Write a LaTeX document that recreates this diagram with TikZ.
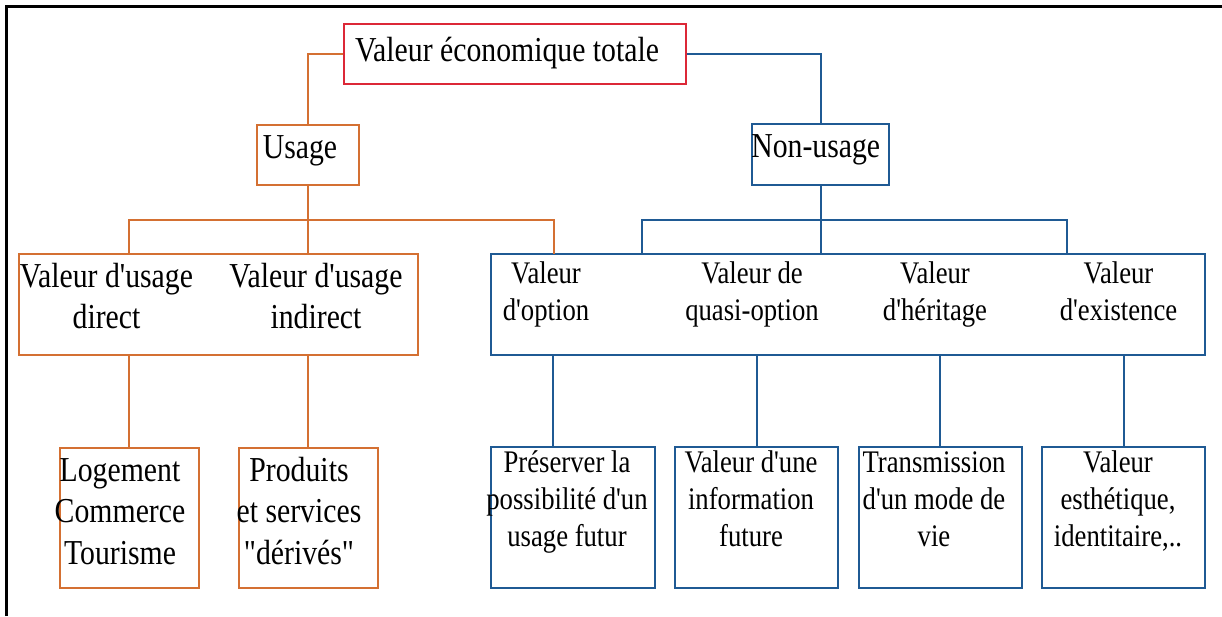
\documentclass[tikz,border=0pt]{standalone}
\usepackage{fontspec}
\setmainfont{Liberation Serif}[FakeStretch=0.85,Ligatures=TeXOff]
\usetikzlibrary{calc}
\definecolor{tvred}{RGB}{220,40,55}
\definecolor{tvorange}{RGB}{212,112,50}
\definecolor{tvblue}{RGB}{31,90,148}
\newcommand\fbig{\fontsize{35}{41.5}\selectfont}
\newcommand\fsmall{\fontsize{31.4}{36.7}\selectfont}
\tikzset{
  boxbase/.style={draw, line width=2pt, inner sep=0pt, rectangle},
  redbox/.style={boxbase, draw=tvred},
  orabox/.style={boxbase, draw=tvorange},
  blubox/.style={boxbase, draw=tvblue},
  oraline/.style={draw=tvorange, line width=2pt},
  bluline/.style={draw=tvblue, line width=2pt},
  % anchored on the baseline of the last line
  tbig/.style={inner sep=0pt, anchor=base, align=center, font=\fbig},
  tsmall/.style={inner sep=0pt, anchor=base, align=center, font=\fsmall},
}
\begin{document}
\begin{tikzpicture}[x=1pt,y=-1pt]
\useasboundingbox (0,0) rectangle (1222,616);
\fill[white] (0,0) rectangle (1222,616);
% outer frame (left and top edges)
\draw[black, line width=2.5pt] (6.7,616) -- (6.7,6.7) -- (1222,6.7);

% boxes
\node[redbox, minimum width=342.4pt, minimum height=60pt] (tot) at (514.8,54) {};
\node[orabox, minimum width=102pt, minimum height=60pt] (use) at (308.4,155) {};
\node[blubox, minimum width=137.4pt, minimum height=60.7pt] (non) at (820.7,154.7) {};
\node[orabox, minimum width=399pt, minimum height=101pt] (ubig) at (218.9,304.5) {};
\node[blubox, minimum width=713.2pt, minimum height=101pt] (nbig) at (848,304.5) {};
\node[orabox, minimum width=138.4pt, minimum height=139.5pt] (u1) at (129.3,517.8) {};
\node[orabox, minimum width=138.4pt, minimum height=139.5pt] (u2) at (308.4,517.8) {};
\node[blubox, minimum width=163.2pt, minimum height=140.4pt] (n1) at (573,517.5) {};
\node[blubox, minimum width=163.3pt, minimum height=140.4pt] (n2) at (756.7,517.5) {};
\node[blubox, minimum width=163.3pt, minimum height=140.4pt] (n3) at (940.25,517.5) {};
\node[blubox, minimum width=162.8pt, minimum height=140.4pt] (n4) at (1123.6,517.5) {};

% bus points
\coordinate (ubus) at (308.4,219.7);
\coordinate (nbus) at (820.7,219.7);
\coordinate (uopt) at (554,254);
\coordinate (nleft) at (641.9,254);
\coordinate (nright) at (1066.8,254);
\coordinate (optdown) at (553.4,355);

% connectors
\draw[oraline] (tot.west |- 0,54) -| (use.north);
\draw[bluline] (tot.east |- 0,54) -| (non.north);
\draw[oraline] (use.south) -- (ubus);
\draw[oraline] (u1 |- ubig.north) |- (ubus) -| (uopt);
\draw[oraline] (ubus) -- (use |- ubig.north);
\draw[bluline] (non.south) -- (nbus);
\draw[bluline] (nleft) |- (nbus) -| (nright);
\draw[bluline] (nbus) -- (non |- nbig.north);
\draw[oraline] (u1 |- ubig.south) -- (u1.north);
\draw[oraline] (u2 |- ubig.south) -- (u2.north);
\draw[bluline] (optdown) -- (optdown |- n1.north);
\draw[bluline] (n2 |- nbig.south) -- (n2.north);
\draw[bluline] (n3 |- nbig.south) -- (n3.north);
\draw[bluline] (n4 |- nbig.south) -- (n4.north);

% texts
\node[tbig] (tTot) at (507,61) {Valeur économique totale};
\node[tbig] (tUse) at (300,158) {Usage};
\node[tbig] (tNon) at (815.7,157) {Non-usage};
\node[tbig] (tDir) at (106.5,328.5) {Valeur d'usage\\direct};
\node[tbig] (tInd) at (316,328.5) {Valeur d'usage\\indirect};
\node[tsmall] (tOpt) at (546,320.5) {Valeur\\d'option};
\node[tsmall] (tQua) at (752,320.5) {Valeur de\\quasi-option};
\node[tsmall] (tHer) at (935,320.5) {Valeur\\d'héritage};
\node[tsmall] (tExi) at (1118.5,320.5) {Valeur\\d'existence};
\node[tbig] (tLog) at (120,564) {Logement\\Commerce\\Tourisme};
\node[tbig] (tPro) at (299,564) {Produits\\et services\\"dérivés"};
\node[tsmall] (tPre) at (567,546) {Préserver la\\possibilité d'un\\usage futur};
\node[tsmall] (tInf) at (751,546) {Valeur d'une\\information\\future};
\node[tsmall] (tTra) at (934,546) {Transmission\\d'un mode de\\vie};
\node[tsmall] (tEst) at (1118,546) {Valeur\\esthétique,\\identitaire,..};
\end{tikzpicture}
\end{document}
